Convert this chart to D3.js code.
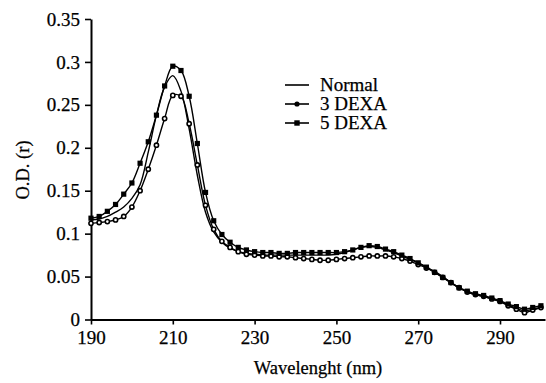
<!DOCTYPE html>
<html>
<head>
<meta charset="utf-8">
<script src="https://cdn.jsdelivr.net/npm/d3@7"></script>
<style>
  body { margin: 0; background: #fff; }
  svg text { font-family: "Liberation Serif", "DejaVu Serif", serif; fill: #000; stroke: #000; stroke-width: 0.25px; }
</style>
</head>
<body>
<div id="chart"></div>
<script>
var wavelengths = [190,192,194,196,198,200,202,204,206,208,210,212,214,216,218,220,222,224,226,228,
                   230,232,234,236,238,240,242,244,246,248,250,252,254,256,258,260,262,264,266,268,
                   270,272,274,276,278,280,282,284,286,288,290,292,294,296,298,300];

var normal = [0.116,0.117,0.120,0.125,0.131,0.141,0.157,0.195,0.238,0.271,0.284,0.266,0.222,0.168,0.125,0.102,0.090,0.083,0.079,0.077,
              0.076,0.075,0.075,0.075,0.075,0.075,0.075,0.075,0.075,0.075,0.076,0.078,0.081,0.084,0.085,0.084,0.081,0.078,0.074,0.070,
              0.066,0.061,0.056,0.050,0.043,0.037,0.032,0.029,0.027,0.024,0.021,0.017,0.013,0.010,0.012,0.014];

var dexa3 = [0.112,0.113,0.114,0.116,0.120,0.131,0.150,0.175,0.203,0.234,0.261,0.260,0.228,0.180,0.133,0.105,0.091,0.084,0.079,0.076,
             0.075,0.074,0.074,0.073,0.073,0.072,0.071,0.070,0.069,0.069,0.070,0.071,0.072,0.073,0.074,0.074,0.074,0.073,0.071,0.068,
             0.064,0.060,0.055,0.049,0.043,0.037,0.032,0.029,0.027,0.024,0.021,0.016,0.012,0.008,0.011,0.014];

var dexa5 = [0.118,0.120,0.126,0.134,0.146,0.159,0.182,0.207,0.238,0.272,0.295,0.290,0.260,0.205,0.148,0.115,0.099,0.090,0.084,0.081,
             0.079,0.078,0.078,0.077,0.077,0.078,0.078,0.078,0.078,0.078,0.078,0.079,0.081,0.084,0.086,0.085,0.082,0.079,0.075,0.071,
             0.066,0.061,0.055,0.049,0.043,0.037,0.033,0.030,0.028,0.025,0.022,0.018,0.015,0.012,0.014,0.016];

var xTicks = [190,210,230,250,270,290];
var yTicks = [0,0.05,0.1,0.15,0.2,0.25,0.3,0.35];
var seriesNames = ["Normal","3 DEXA","5 DEXA"];

var width = 546, height = 383,
    plotLeft = 91, plotTop = 19, plotRight = 545, plotBottom = 319.5;

var svg = d3.select("#chart").append("svg")
    .attr("width", width)
    .attr("height", height);

var x = d3.scaleLinear().domain([190, 301]).range([plotLeft, plotRight]),
    y = d3.scaleLinear().domain([0, 0.35]).range([plotBottom, plotTop]);

// axes
var xAxis = svg.append("g")
    .attr("transform", "translate(0," + plotBottom + ")")
    .call(d3.axisBottom(x).tickValues(xTicks).tickSize(5).tickSizeOuter(0).tickPadding(6));
var yAxis = svg.append("g")
    .attr("transform", "translate(" + plotLeft + ",0)")
    .call(d3.axisLeft(y).tickValues(yTicks).tickSize(6).tickSizeOuter(0).tickPadding(5)
        .tickFormat(function(d){ return d === 0 ? "0" : String(+d.toFixed(2)); }));

[xAxis, yAxis].forEach(function(g){
    g.select(".domain").attr("stroke", "#000").attr("stroke-width", 2);
    g.selectAll(".tick line").attr("stroke", "#000").attr("stroke-width", 1.6);
    g.selectAll(".tick text").style("font-family", "Liberation Serif").style("font-size", "19px")
        .attr("fill", "#000");
});

svg.append("text")
    .attr("x", 318).attr("y", 374)
    .attr("text-anchor", "middle")
    .style("font-size", "18.5px")
    .text("Wavelenght (nm)");

svg.append("text")
    .attr("transform", "translate(29,170) rotate(-90)")
    .attr("text-anchor", "middle")
    .style("font-size", "18.5px")
    .text("O.D. (r)");

// curves
var line = d3.line()
    .x(function(d){ return x(d[0]); })
    .y(function(d){ return y(d[1]); })
    .curve(d3.curveCatmullRom);

function pairs(vals){ return wavelengths.map(function(w, i){ return [w, vals[i]]; }); }

var data = [pairs(normal), pairs(dexa3), pairs(dexa5)];

data.forEach(function(s){
    svg.append("path")
        .datum(s)
        .attr("fill", "none")
        .attr("stroke", "#000")
        .attr("stroke-width", 1.4)
        .attr("d", line);
});

svg.append("g").selectAll("circle")
    .data(data[1])
    .join("circle")
    .attr("cx", function(d){ return x(d[0]); })
    .attr("cy", function(d){ return y(d[1]); })
    .attr("r", 2.1)
    .attr("fill", "#fff")
    .attr("stroke", "#000")
    .attr("stroke-width", 1.6);

svg.append("g").selectAll("rect")
    .data(data[2])
    .join("rect")
    .attr("x", function(d){ return x(d[0]) - 2.6; })
    .attr("y", function(d){ return y(d[1]) - 2.6; })
    .attr("width", 5.2)
    .attr("height", 5.2)
    .attr("fill", "#000");

// legend
var legend = svg.append("g").attr("transform", "translate(285,85)");
seriesNames.forEach(function(name, i){
    var g = legend.append("g").attr("transform", "translate(0," + (i * 19) + ")");
    g.append("line").attr("x1", 0).attr("x2", 24).attr("y1", 0).attr("y2", 0)
        .attr("stroke", "#000").attr("stroke-width", 1.6);
    if (i === 1) g.append("circle").attr("cx", 12).attr("cy", 0).attr("r", 2.6).attr("fill", "#000");
    if (i === 2) g.append("rect").attr("x", 9.3).attr("y", -2.7).attr("width", 5.4).attr("height", 5.4).attr("fill", "#000");
    g.append("text").attr("x", 35).attr("y", 6).style("font-size", "19px").text(name);
});
</script>
</body>
</html>
